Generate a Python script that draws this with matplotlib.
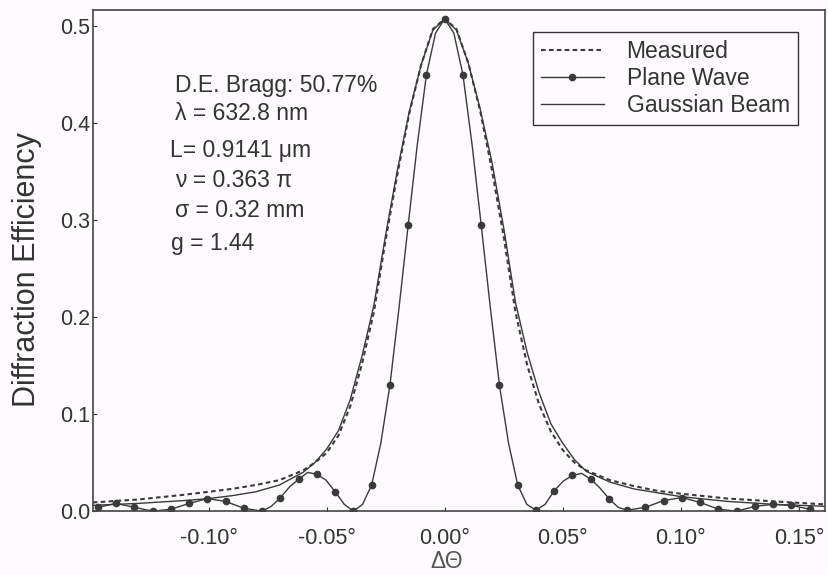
import numpy as np
from matplotlib import pyplot as plt

plt.rcParams['font.family'] = ['Liberation Sans', 'DejaVu Sans']

# Gaussian beam theory (solid line)
gb_theta = [-0.149, -0.13, -0.11, -0.10, -0.09, -0.08, -0.07, -0.06, -0.055, -0.05,
            -0.045, -0.04, -0.035, -0.03, -0.025, -0.02, -0.015, -0.01, -0.005, 0.0,
            0.005, 0.01, 0.015, 0.02, 0.025, 0.03, 0.035, 0.04, 0.045, 0.05,
            0.055, 0.06, 0.07, 0.08, 0.09, 0.10, 0.12, 0.14, 0.161]
gb_eff = [0.006, 0.008, 0.011, 0.013, 0.016, 0.020, 0.027, 0.040, 0.050, 0.064,
          0.083, 0.115, 0.160, 0.212, 0.285, 0.352, 0.412, 0.460, 0.496, 0.5077,
          0.496, 0.462, 0.415, 0.360, 0.292, 0.215, 0.163, 0.122, 0.090, 0.070,
          0.053, 0.041, 0.030, 0.023, 0.019, 0.015, 0.010, 0.007, 0.005]

# measured data (dashed)
ms_theta = gb_theta
ms_eff = [0.009, 0.012, 0.017, 0.020, 0.023, 0.027, 0.032, 0.042, 0.050, 0.060,
          0.078, 0.108, 0.152, 0.205, 0.280, 0.348, 0.410, 0.460, 0.497, 0.5077,
          0.497, 0.462, 0.413, 0.352, 0.283, 0.205, 0.150, 0.110, 0.082, 0.063,
          0.050, 0.042, 0.032, 0.026, 0.021, 0.018, 0.013, 0.010, 0.007]

# plane wave theory, sampled in steps of the detuning angle
pw_step = 0.00773
pw_k = [-19, -18, -17, -16, -15, -14, -13, -12, -11, -10,
        -9.5, -9, -8.5, -8, -7.5, -7, -6.5, -6, -5.5, -5,
        -4.5, -4, -3.5, -3, -2.5, -2, -1.5, -1, -0.5, 0,
        0.5, 1, 1.5, 2, 2.5, 3, 3.5, 4, 4.5, 5,
        5.5, 6, 6.5, 7, 7.5, 8, 8.5, 9, 9.5, 10,
        11, 12, 13, 14, 15, 16, 17, 18, 19, 20]
pw_eff = [0.004, 0.008, 0.004, 0.0, 0.002, 0.008, 0.013, 0.010, 0.003, 0.0,
          0.005, 0.014, 0.025, 0.033, 0.040, 0.038, 0.032, 0.020, 0.007, 0.0,
          0.007, 0.027, 0.070, 0.130, 0.210, 0.295, 0.378, 0.450, 0.493, 0.5077,
          0.493, 0.450, 0.378, 0.295, 0.210, 0.130, 0.070, 0.027, 0.007, 0.001,
          0.007, 0.021, 0.031, 0.037, 0.039, 0.033, 0.024, 0.013, 0.004, 0.001,
          0.004, 0.011, 0.014, 0.009, 0.002, 0.0, 0.005, 0.007, 0.006, 0.002]

params = ['D.E. Bragg: 50.77%', 'λ = 632.8 nm', 'L= 0.9141 μm',
          'ν = 0.363 π', 'σ = 0.32 mm', 'g = 1.44']
xticks = [-0.10, -0.05, 0.0, 0.05, 0.10, 0.15]
yticks = [0.0, 0.1, 0.2, 0.3, 0.4, 0.5]

pw_theta = np.array(pw_k) * pw_step
marks = [i for i, k in enumerate(pw_k) if float(k).is_integer()]

fig = plt.figure(figsize=(8.29, 5.75), dpi=100)
fig.patch.set_facecolor('#fdfbfd')
ax = fig.add_axes([0.112, 0.111, 0.883, 0.872])
ax.set_facecolor('#fdfbfd')

lc = '#3a3a3a'
ax.plot(ms_theta, ms_eff, color=lc, lw=1.5, linestyle=(0, (2.2, 1.6)), label='Measured')
ax.plot(pw_theta, pw_eff, color=lc, lw=1.0, marker='o', markersize=4.5,
        markevery=marks, label='Plane Wave')
ax.plot(gb_theta, gb_eff, color=lc, lw=1.0, label='Gaussian Beam')

ax.set_xlim(-0.149, 0.161)
ax.set_ylim(0.0, 0.517)
ax.set_xticks(xticks)
ax.set_xticklabels(['%.2f°' % t for t in xticks])
ax.set_yticks(yticks)
ax.set_yticklabels(['%.1f' % t for t in yticks])
ax.tick_params(direction='in', length=3, labelsize=15.5, colors='#333333')
ax.tick_params(axis='x', pad=12)
ax.tick_params(axis='y', pad=2)
for s in ax.spines.values():
    s.set_color('#444444')
    s.set_linewidth(1.2)

ax.set_ylabel('Diffraction Efficiency', fontsize=22, color='#333333')
ax.yaxis.set_label_coords(-0.07, 0.481)
ax.set_xlabel('ΔΘ', fontsize=16.5, color='#555555')
ax.xaxis.set_label_coords(0.483, -0.078)

# grating parameters
xpos = [-0.1143, -0.1143, -0.1164, -0.1143, -0.1143, -0.1160]
ypos = [0.439, 0.410, 0.372, 0.341, 0.310, 0.276]
for t, xx, yy in zip(params, xpos, ypos):
    ax.text(xx, yy, t, fontsize=16.5, color='#333333', va='center', ha='left')

leg = ax.legend(loc='upper right', bbox_to_anchor=(0.963, 0.956), borderaxespad=0,
                fontsize=16.5, fancybox=False, edgecolor='#333333', framealpha=1,
                facecolor='#fdfbfd', handlelength=2.75, labelspacing=0.18,
                borderpad=0.35, handletextpad=1.0)
leg.get_frame().set_linewidth(1.0)
for t in leg.get_texts():
    t.set_color('#333333')

fig.savefig('out.png', dpi=100, facecolor=fig.get_facecolor())
